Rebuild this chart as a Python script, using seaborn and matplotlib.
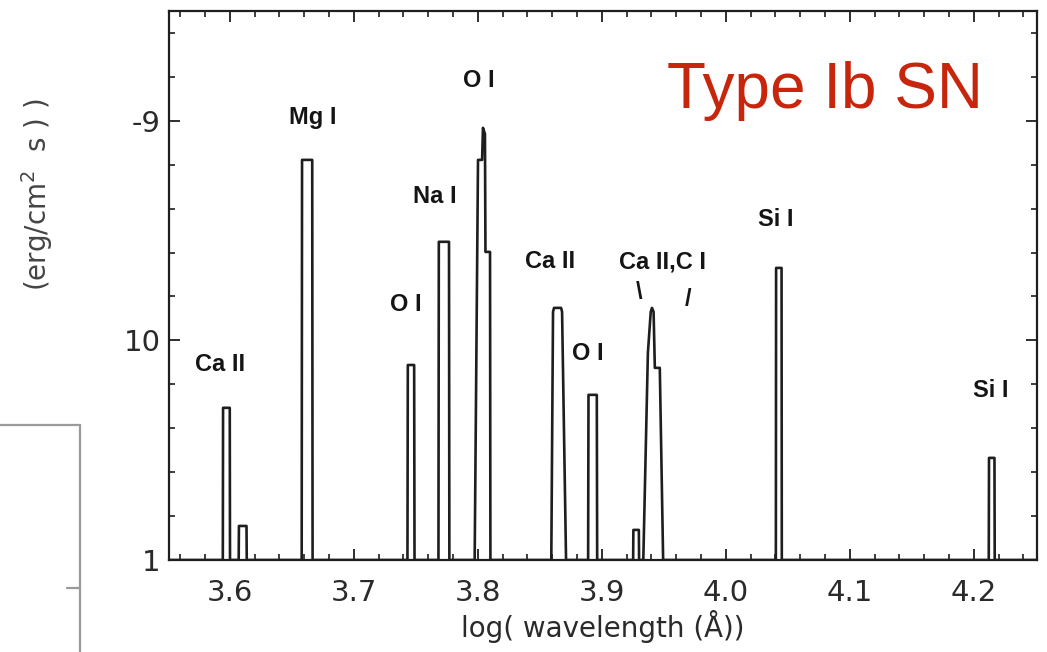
import numpy as np
import pandas as pd
import matplotlib
matplotlib.use("Agg")
import matplotlib.pyplot as plt
import seaborn as sns
from matplotlib.lines import Line2D
from matplotlib.ticker import MultipleLocator, FixedLocator

# ---------------- data (log wavelength [A], log flux [erg/cm^2 s]) ----------------
BASE = -11.0
feat_wave = {
    "Ca II 3.60": [3.5944, 3.5946, 3.6000, 3.6002],
    "Ca II 3.61": [3.6072, 3.6074, 3.6135, 3.6137],
    "Mg I":       [3.6580, 3.6583, 3.6665, 3.6668],
    "O I 3.74":   [3.7433, 3.7436, 3.7487, 3.7490],
    "Na I":       [3.7683, 3.7686, 3.7768, 3.7771],
    "O I 3.80":   [3.7975, 3.8002, 3.8035, 3.8042, 3.8058, 3.8062, 3.8099, 3.8102],
    "Ca II 3.86": [3.8593, 3.8607, 3.8615, 3.8672, 3.8680, 3.8712],
    "O I 3.89":   [3.8890, 3.8893, 3.8960, 3.8963],
    "C I 3.93":   [3.9253, 3.9255, 3.9299, 3.9301],
    "Ca II,C I":  [3.9335, 3.9372, 3.9395, 3.9405, 3.9418, 3.9428, 3.9468, 3.9495],
    "Si I 4.04":  [4.0404, 4.0406, 4.0450, 4.0452],
    "Si I 4.21":  [4.2121, 4.2123, 4.2167, 4.2169],
}
feat_flux = {
    "Ca II 3.60": [BASE, -10.307, -10.307, BASE],
    "Ca II 3.61": [BASE, -10.845, -10.845, BASE],
    "Mg I":       [BASE, -9.178, -9.178, BASE],
    "O I 3.74":   [BASE, -10.112, -10.112, BASE],
    "Na I":       [BASE, -9.551, -9.551, BASE],
    "O I 3.80":   [BASE, -9.178, -9.178, -9.032, -9.060, -9.597, -9.597, BASE],
    "Ca II 3.86": [BASE, -9.870, -9.852, -9.852, -9.870, BASE],
    "O I 3.89":   [BASE, -10.248, -10.248, BASE],
    "C I 3.93":   [BASE, -10.863, -10.863, BASE],
    "Ca II,C I":  [BASE, -10.057, -9.870, -9.852, -9.870, -10.125, -10.125, BASE],
    "Si I 4.04":  [BASE, -9.670, -9.670, BASE],
    "Si I 4.21":  [BASE, -10.535, -10.535, BASE],
}

label_text = ["Ca II", "Mg I", "O I", "Na I", "O I", "Ca II", "Ca II,C I", "O I", "Si I", "Si I", "\\", "/"]
label_x = [3.5919, 3.6668, 3.8005, 3.7651, 3.7417, 3.8585, 3.9486, 3.8890, 4.0404, 4.2135, 3.9301, 3.9696]
label_y = [-10.112, -8.986, -8.818, -9.346, -9.838, -9.642, -9.642, -10.061, -9.451, -10.230, -9.784, -9.815]

xtick_vals = [3.6, 3.7, 3.8, 3.9, 4.0, 4.1, 4.2]
xtick_labels = ["3.6", "3.7", "3.8", "3.9", "4.0", "4.1", "4.2"]
ytick_vals = [-11, -10, -9]
ytick_labels = ["1", "10", "-9"]

# ---------------- build spectrum polyline ----------------
xs, ys = [3.551], [BASE]
for k in feat_wave:
    xs += feat_wave[k]
    ys += feat_flux[k]
xs.append(4.251)
ys.append(BASE)
spec = pd.DataFrame({"logwave": xs, "logflux": ys})

# ---------------- figure ----------------
sns.set_style("white")
plt.rcParams["font.family"] = ["DejaVu Sans"]
fig = plt.figure(figsize=(10.47, 6.52), dpi=100)
ax = fig.add_axes([169 / 1047, 92 / 652, 868 / 1047, 549 / 652])

sns.lineplot(data=spec, x="logwave", y="logflux", sort=False, estimator=None,
             color="#1e1e1e", lw=1.9, ax=ax)

ax.set_xlim(3.551, 4.251)
ax.set_ylim(-11.0, -8.5)

for s in ax.spines.values():
    s.set_color("#1e1e1e")
    s.set_linewidth(1.6)
    s.set_visible(True)

ax.xaxis.set_major_locator(FixedLocator(xtick_vals))
ax.set_xticklabels(xtick_labels)
ax.xaxis.set_minor_locator(MultipleLocator(0.02))
ax.yaxis.set_major_locator(FixedLocator(ytick_vals))
ax.set_yticklabels(ytick_labels)
ax.yaxis.set_minor_locator(MultipleLocator(0.2))

ax.tick_params(which="both", direction="in", top=True, right=True, bottom=True, left=True,
               color="#1e1e1e")
ax.tick_params(which="major", length=8, width=1.3)
ax.tick_params(which="minor", length=4, width=1.2)
ax.tick_params(axis="x", which="major", labelsize=21, pad=14, labelcolor="#2a2a2a")
ax.tick_params(axis="y", which="major", labelsize=21, pad=6, labelcolor="#2a2a2a")

ax.set_xlabel("log( wavelength (\u00c5))", fontsize=20, color="#2a2a2a", labelpad=2)
ax.set_ylabel("(erg/cm$^2$  s ) )", fontsize=20, color="#444444")
ax.yaxis.set_label_coords((55 - 169) / 868, (560 - 195) / 549)

for t, x, y in zip(label_text, label_x, label_y):
    ax.text(x, y, t, ha="center", va="center", fontsize=17, fontweight="bold",
            family=["Liberation Sans", "DejaVu Sans"], color="#151515")

fig.text(667 / 1047, 1 - 108 / 652, "Type Ib SN", ha="left", va="baseline",
         fontsize=46, color="#c8260c", family=["Liberation Sans", "DejaVu Sans"], fontweight="normal")

# leftover frame of a neighbouring panel (left edge of the slide)
def px(x, y):
    return x / 1047, 1 - y / 652
for (x0, y0), (x1, y1) in [((0, 425), (80, 425)), ((80, 425), (80, 652)), ((67, 588), (80, 588))]:
    a, b = px(x0, y0)
    c, d = px(x1, y1)
    fig.add_artist(Line2D([a, c], [b, d], transform=fig.transFigure, color="#9a9a9a", lw=1.6))

fig.savefig("out.png", dpi=100)
